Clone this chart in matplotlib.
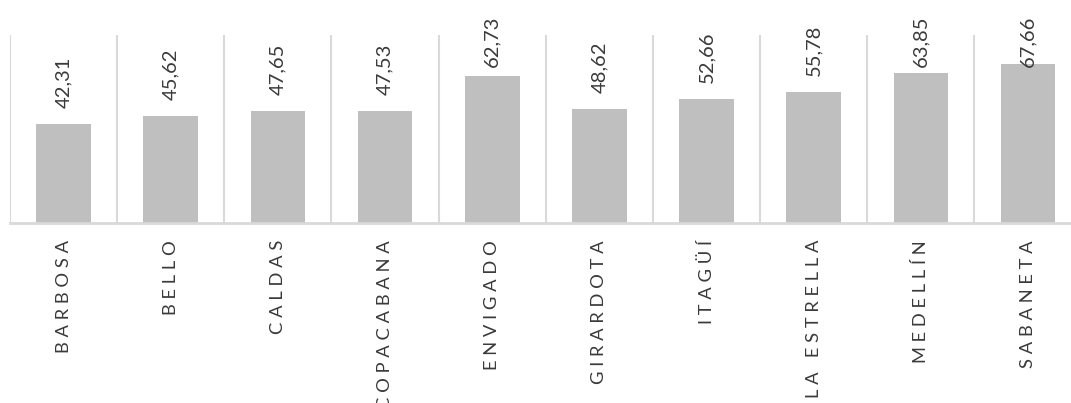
import matplotlib
matplotlib.use("Agg")
import matplotlib.pyplot as plt
import numpy as np

municipios = ["BARBOSA", "BELLO", "CALDAS", "COPACABANA", "ENVIGADO",
              "GIRARDOTA", "ITAGÜÍ", "LA ESTRELLA", "MEDELLÍN", "SABANETA"]
valores = [42.31, 45.62, 47.65, 47.53, 62.73, 48.62, 52.66, 55.78, 63.85, 67.66]

plt.rcParams['font.family'] = ['Lato', 'DejaVu Sans']

W, H = 1071, 403
fig = plt.figure(figsize=(W / 100, H / 100), dpi=100)
# axes runs a little past the right edge, like the original
left, right, top, base = 10, 1081.6, 35, 223
ax = fig.add_axes([left / W, (H - base) / H, (right - left) / W, (base - top) / H])

x = np.arange(len(valores))
ax.bar(x, valores, width=0.51, color='#BFBFBF', zorder=2)
ax.set_xlim(-0.5, len(valores) - 0.5)
ax.set_ylim(0, 80)

for b in np.arange(-0.5, len(valores), 1.0):
    ax.axvline(b, color='#D9D9D9', lw=1.5, zorder=1)
ax.axhline(0, color='#D9D9D9', lw=2, zorder=3, clip_on=False)

for s in ax.spines.values():
    s.set_visible(False)
ax.set_xticks([])
ax.set_yticks([])

txt_color = '#3a3a3a'
for i, v in enumerate(valores):
    y = min(v + 6.8, 66.5)
    ax.text(i, y, f"{v:.2f}".replace('.', ','), rotation=90, ha='center', va='bottom',
            fontsize=14.5, color=txt_color)

for i, m in enumerate(municipios):
    spaced = ' '.join(m)
    ax.annotate(spaced, xy=(i, 0), xytext=(0, -17), textcoords='offset pixels',
                rotation=90, ha='center', va='top', fontsize=13.2, color=txt_color,
                annotation_clip=False)

fig.savefig('out.png', dpi=100)
